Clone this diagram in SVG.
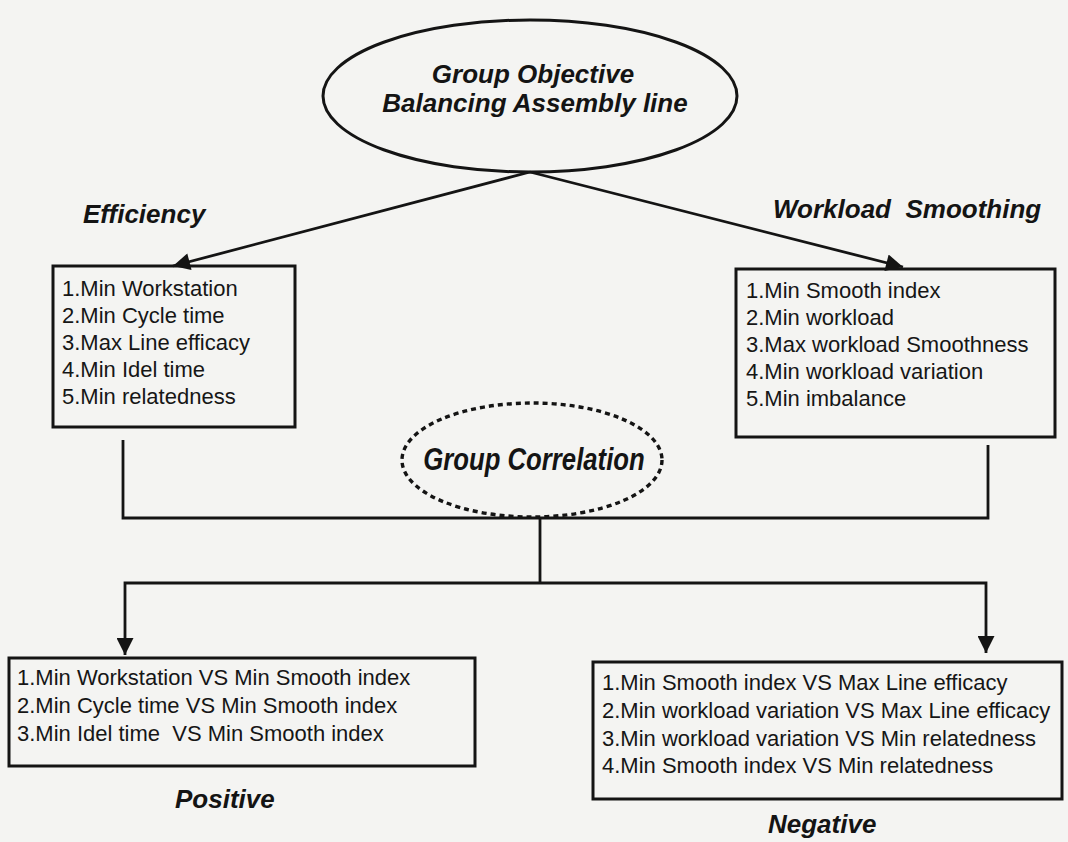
<svg xmlns="http://www.w3.org/2000/svg" width="1068" height="842" viewBox="0 0 1068 842">
  <style>
    .bg { fill: #f4f4f2; }
    .frame { fill: none; stroke: #141414; stroke-width: 3; }
    .dash { fill: none; stroke: #141414; stroke-width: 3.4; stroke-dasharray: 5 4; }
    .wire { fill: none; stroke: #141414; stroke-width: 2.8; }
    .item { font-family: "Liberation Sans", Arial, sans-serif; font-size: 22px; fill: #161616; }
    .head { font-family: "Liberation Sans", Arial, sans-serif; font-size: 26px; font-weight: bold; font-style: italic; fill: #141414; }
    .corr { font-family: "Liberation Sans", Arial, sans-serif; font-size: 31px; font-weight: bold; font-style: italic; fill: #141414; }
  </style>
  <defs>
    <marker id="arrow" viewBox="0 0 10 10" refX="10" refY="5" markerUnits="userSpaceOnUse" markerWidth="27" markerHeight="17" orient="auto">
      <path d="M0,0 L10,5 L0,10 z" fill="#141414"/>
    </marker>
  </defs>

  <rect class="bg" x="0" y="0" width="1068" height="842"/>

  <!-- connectors -->
  <g id="connectors">
    <line class="wire" x1="530" y1="172" x2="173" y2="266" marker-end="url(#arrow)"/>
    <line class="wire" x1="530" y1="172" x2="903" y2="267" marker-end="url(#arrow)"/>
    <path class="wire" d="M123,440 V518 H988 V445"/>
    <path class="wire" d="M540,518 V583"/>
    <path class="wire" d="M540,583 H125 V655" marker-end="url(#arrow)"/>
    <path class="wire" d="M540,583 H986 V653" marker-end="url(#arrow)"/>
  </g>

  <!-- top objective -->
  <g id="objective">
    <ellipse class="frame" cx="530" cy="96" rx="207" ry="76"/>
    <text class="head" x="533" y="83" text-anchor="middle">Group Objective</text>
    <text class="head" x="535" y="112" text-anchor="middle">Balancing Assembly line</text>
  </g>

  <!-- efficiency group -->
  <g id="efficiency">
    <text class="head" x="83" y="223">Efficiency</text>
    <rect class="frame" x="53" y="266" width="242" height="161"/>
    <text class="item" x="62" y="296">1.Min Workstation</text>
    <text class="item" x="62" y="323">2.Min Cycle time</text>
    <text class="item" x="62" y="350">3.Max Line efficacy</text>
    <text class="item" x="62" y="377">4.Min Idel time</text>
    <text class="item" x="62" y="404">5.Min relatedness</text>
  </g>

  <!-- workload smoothing group -->
  <g id="smoothing">
    <text class="head" x="773" y="218" xml:space="preserve">Workload  Smoothing</text>
    <rect class="frame" x="736" y="269" width="319" height="168"/>
    <text class="item" x="746" y="298">1.Min Smooth index</text>
    <text class="item" x="746" y="325">2.Min workload</text>
    <text class="item" x="746" y="352">3.Max workload Smoothness</text>
    <text class="item" x="746" y="379">4.Min workload variation</text>
    <text class="item" x="746" y="406">5.Min imbalance</text>
  </g>

  <!-- correlation hub (condensed lettering) -->
  <g id="correlation">
    <ellipse class="dash" cx="532" cy="460" rx="130" ry="57"/>
    <text class="corr" x="534" y="470" text-anchor="middle" transform="translate(534 0) scale(0.83 1) translate(-534 0)">Group Correlation</text>
  </g>

  <!-- positive correlations -->
  <g id="positive">
    <rect class="frame" x="9" y="658" width="466" height="108"/>
    <text class="item" x="17" y="685">1.Min Workstation VS Min Smooth index</text>
    <text class="item" x="17" y="713">2.Min Cycle time VS Min Smooth index</text>
    <text class="item" x="17" y="741" xml:space="preserve">3.Min Idel time  VS Min Smooth index</text>
    <text class="head" x="175" y="808">Positive</text>
  </g>

  <!-- negative correlations -->
  <g id="negative">
    <rect class="frame" x="593" y="662" width="469" height="137"/>
    <text class="item" x="602" y="690">1.Min Smooth index VS Max Line efficacy</text>
    <text class="item" x="602" y="718">2.Min workload variation VS Max Line efficacy</text>
    <text class="item" x="602" y="746">3.Min workload variation VS Min relatedness</text>
    <text class="item" x="602" y="773">4.Min Smooth index VS Min relatedness</text>
    <text class="head" x="768" y="833">Negative</text>
  </g>
</svg>
